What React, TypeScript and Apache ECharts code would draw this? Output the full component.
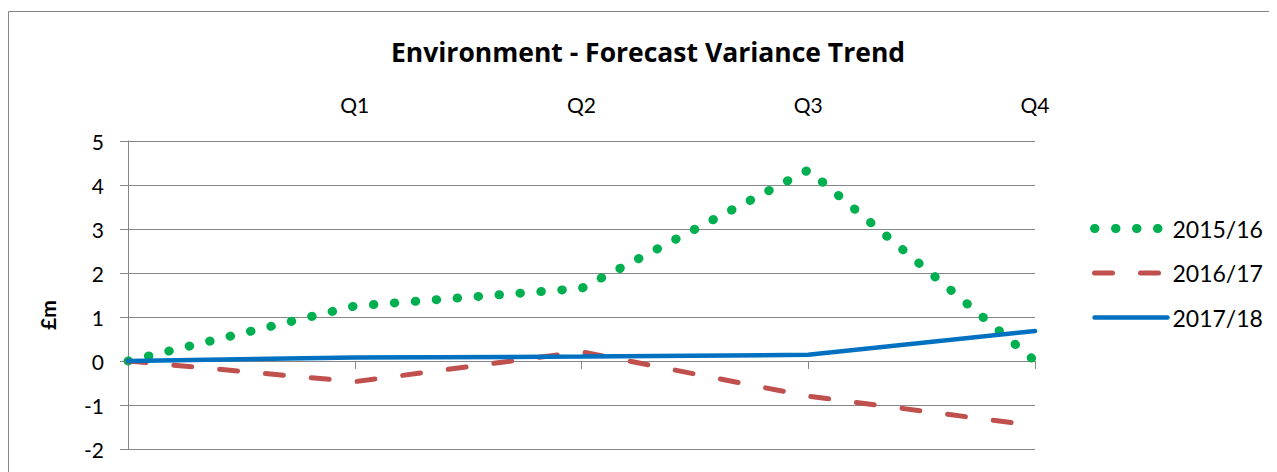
import React, { useEffect, useRef } from "react";
import * as echarts from "echarts";

const categories = ["", "Q1", "Q2", "Q3", "Q4"];
const series2015 = [0, 1.25, 1.65, 4.34, 0];
const series2016 = [0, -0.47, 0.21, -0.8, -1.47];
const series2017 = [0, 0.08, 0.1, 0.14, 0.68];
const seriesNames = ["2015/16", "2016/17", "2017/18"];
const yTicks = { min: -2, max: 5, interval: 1 };

const FONT = "Lato, 'Noto Sans', sans-serif";
const TITLE_FONT = "'Open Sans', Lato, sans-serif";
const GRAY = "#868686";

export default function App() {
  const ref = useRef<HTMLDivElement>(null);
  useEffect(() => {
    if (!ref.current) return;
    const chart = echarts.init(ref.current, undefined, { renderer: "svg" });
    const styles = [
      { color: "#00B050", width: 9, type: [0.5, 20.5], cap: "round" },
      { color: "#C0504D", width: 5, type: [18, 28], cap: "round" },
      { color: "#0070C0", width: 4.5, type: "solid", cap: "round" },
    ];
    const datas = [series2015, series2016, series2017];
    chart.setOption({
      animation: false,
      textStyle: { fontFamily: FONT },
      grid: { left: 120, top: 133, width: 907, height: 308, containLabel: false },
      graphic: [
        {
          type: "rect",
          shape: { x: 0.5, y: 3.5, width: 1400, height: 1000 },
          style: { fill: "none", stroke: GRAY, lineWidth: 1 },
          silent: true,
        },
        {
          type: "text",
          x: 640,
          y: 44,
          style: {
            text: "Environment - Forecast Variance Trend",
            textAlign: "center",
            textVerticalAlign: "middle",
            fontFamily: TITLE_FONT,
            fontWeight: "bold",
            fontSize: 26.5,
            fill: "#000",
          },
        },
        {
          type: "text",
          x: 39,
          y: 307,
          rotation: Math.PI / 2,
          style: {
            text: "£m",
            textAlign: "center",
            textVerticalAlign: "middle",
            fontFamily: FONT,
            fontWeight: "bold",
            fontSize: 21,
            fill: "#000",
          },
        },
      ],
      legend: {
        orient: "vertical",
        left: 1077,
        top: 204,
        itemWidth: 73,
        itemHeight: 20,
        itemGap: 21.5,
        textStyle: { fontSize: 23, color: "#000", fontFamily: FONT },
        data: seriesNames.map((n, i) => ({
          name: n,
          itemStyle: { opacity: 0, color: styles[i].color },
          lineStyle: { ...styles[i] },
        })),
      },
      xAxis: [
        {
          type: "category",
          data: categories,
          boundaryGap: false,
          position: "bottom",
          axisLine: { onZero: true, lineStyle: { color: GRAY, width: 1 } },
          axisTick: { show: true, length: 8, lineStyle: { color: GRAY } },
          axisLabel: { show: false },
          splitLine: { show: false },
        },
        {
          type: "category",
          data: categories,
          boundaryGap: false,
          position: "top",
          axisLine: { show: false },
          axisTick: { show: false },
          axisLabel: { fontSize: 21, color: "#000", fontFamily: FONT, margin: 26 },
          splitLine: { show: false },
        },
      ],
      yAxis: {
        type: "value",
        min: yTicks.min,
        max: yTicks.max,
        interval: yTicks.interval,
        axisLine: { show: true, lineStyle: { color: GRAY, width: 1 } },
        axisTick: { show: true, length: 8, lineStyle: { color: GRAY } },
        axisLabel: { fontSize: 21, color: "#000", fontFamily: FONT, margin: 24 },
        splitLine: { show: true, lineStyle: { color: GRAY, width: 1 } },
      },
      series: seriesNames.map((n, i) => ({
        name: n,
        type: "line",
        xAxisIndex: 0,
        data: datas[i],
        symbol: "none",
        itemStyle: { color: styles[i].color },
        lineStyle: styles[i],
        z: 2 + i,
      })),
    });
    return () => chart.dispose();
  }, []);
  return <div ref={ref} style={{ width: 1269, height: 464 }} />;
}
